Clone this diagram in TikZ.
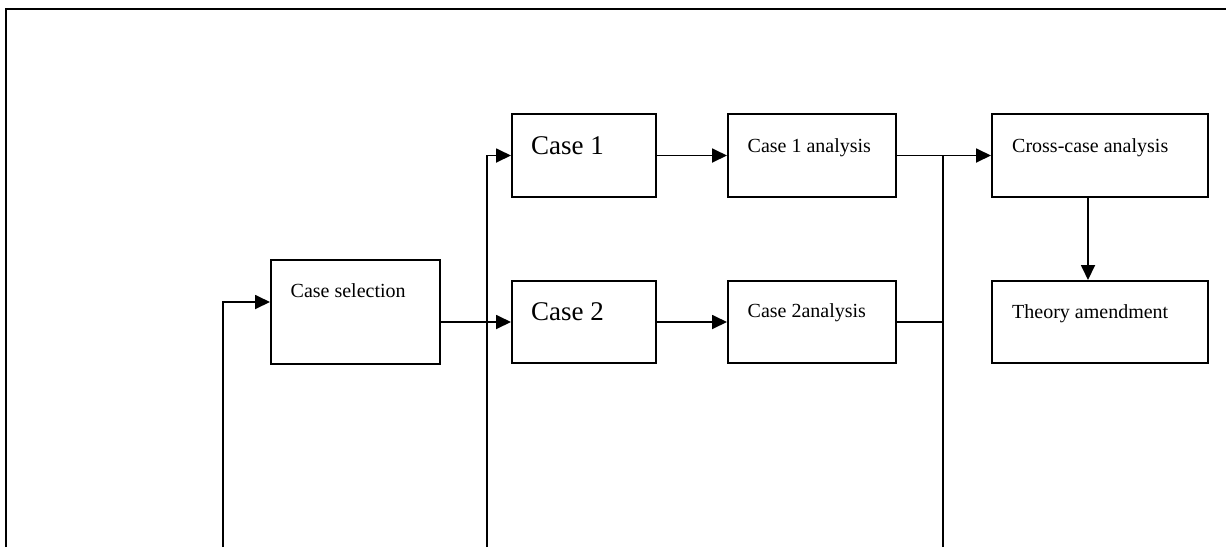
\documentclass[tikz,border=0pt]{standalone}
\usepackage{fontspec}
\setmainfont{Liberation Serif}
\usetikzlibrary{arrows.meta}
\begin{document}
\begin{tikzpicture}[x=1pt,y=-1pt,
 box/.style={draw, line width=2pt, inner sep=0pt, anchor=north west},
 conn/.style={line width=1.8pt},
 thin conn/.style={line width=1.4pt},
 arr/.style={conn, -{Triangle[length=15pt,width=14pt]}},
 txt/.style={font=\fontsize{20}{24}\selectfont},
 big/.style={font=\fontsize{27}{32}\selectfont},
 lab/.style n args={4}{label={[#1,anchor=base west,inner sep=0pt,xshift=#2,yshift=#3]north west:#4}}]
\useasboundingbox (0,0) rectangle (1226,547);
% outer frame
\draw[line width=2.5pt] (6,547) -- (6,9) -- (1226,9);
% boxes
\node[box, minimum width=169pt, minimum height=104pt, lab={txt}{20.5pt}{-38.3pt}{Case selection}] (sel) at (270,259) {};
\node[box, minimum width=144pt, minimum height=83pt, lab={big}{20pt}{-41.5pt}{Case 1}] (c1) at (511,113) {};
\node[box, minimum width=144pt, minimum height=82pt, lab={big}{20pt}{-40.7pt}{Case 2}] (c2) at (511,280) {};
\node[box, minimum width=168pt, minimum height=83pt, lab={txt}{20.5pt}{-39pt}{Case 1 analysis}] (a1) at (727,113) {};
\node[box, minimum width=168pt, minimum height=82pt, lab={txt}{20.5pt}{-37.5pt}{Case 2analysis}] (a2) at (727,280) {};
\node[box, minimum width=216pt, minimum height=83pt, lab={txt}{21pt}{-39pt}{Cross-case analysis}] (cross) at (991,113) {};
\node[box, minimum width=216pt, minimum height=82pt, lab={txt}{21pt}{-38.3pt}{Theory amendment}] (theory) at (991,280) {};
% free ends at the bottom
\coordinate (b1) at (223,547);
\coordinate (b2) at (487,547);
\coordinate (b3) at (943,547);
% connectors
\draw[arr] (b1) |- ([yshift=10pt]sel.west);
\draw[arr] ([yshift=-10pt]sel.east) -- (c2.west);
\draw[arr] (b2) |- (c1.west);
\draw[arr] (c1.east) -- (a1.west);
\draw[arr] (c2.east) -- (a2.west);
\draw[arr] (a1.east) -- (cross.west);
\draw[conn] (b3) -- (b3 |- a1.east);
\draw[thin conn] (a2.east) -- (b3 |- a2.east);
\draw[arr] ([xshift=-12pt]cross.south) -- ([xshift=-12pt]theory.north);
\end{tikzpicture}
\end{document}
